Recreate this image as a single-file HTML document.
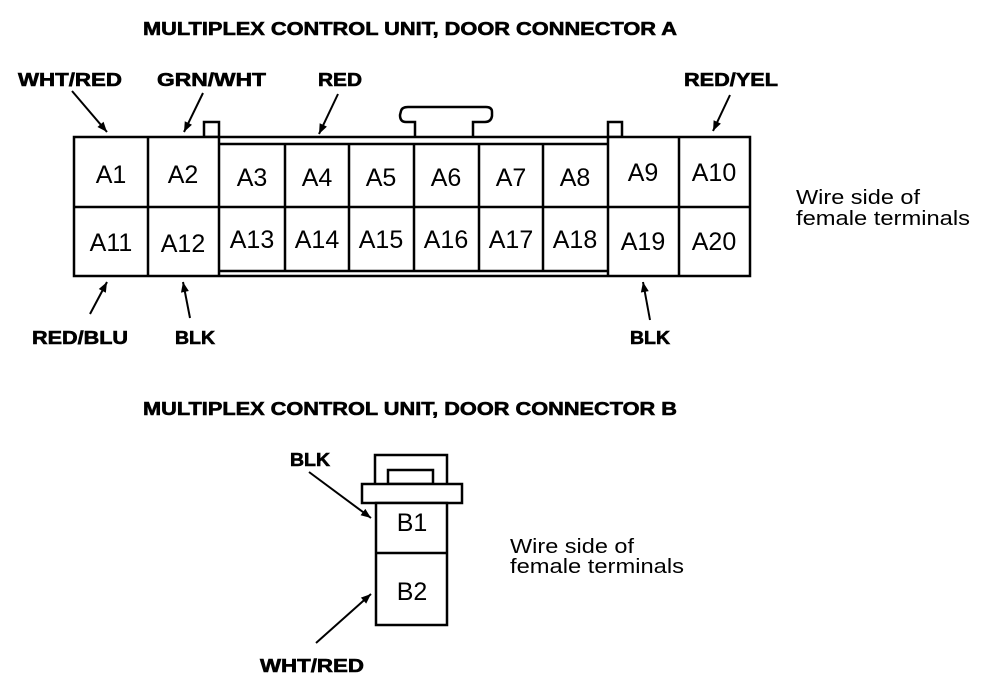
<!DOCTYPE html>
<html><head><meta charset="utf-8"><style>
html,body{margin:0;padding:0;background:#fff;}
svg{display:block;}
.t{font-family:"Liberation Sans",sans-serif;font-weight:bold;font-size:18px;fill:#000;stroke:#000;stroke-width:0.6;}
.c{font-family:"Liberation Sans",sans-serif;font-size:25px;fill:#000;text-anchor:middle;}
.n{font-family:"Liberation Sans",sans-serif;font-size:20px;fill:#000;}
</style></head><body>
<svg width="1008" height="696" viewBox="0 0 1008 696">
<defs><marker id="a" viewBox="0 0 10 10" refX="10" refY="5" markerWidth="7" markerHeight="6" orient="auto" markerUnits="userSpaceOnUse"><path d="M0,1 L10,5 L0,9 z" fill="#000"/></marker></defs>
<defs><marker id="b" viewBox="0 0 10 10" refX="10" refY="5" markerWidth="14" markerHeight="10" orient="auto" markerUnits="userSpaceOnUse"><path d="M0,1 L10,5 L0,9 z" fill="#000"/></marker></defs>
<text class="t" x="143" y="35" textLength="534" lengthAdjust="spacingAndGlyphs">MULTIPLEX CONTROL UNIT, DOOR CONNECTOR A</text>
<text class="t" x="18" y="86" textLength="104" lengthAdjust="spacingAndGlyphs">WHT/RED</text>
<text class="t" x="157" y="86" textLength="109" lengthAdjust="spacingAndGlyphs">GRN/WHT</text>
<text class="t" x="318" y="86" textLength="44" lengthAdjust="spacingAndGlyphs">RED</text>
<text class="t" x="684" y="86" textLength="94" lengthAdjust="spacingAndGlyphs">RED/YEL</text>
<text class="t" x="32" y="344" textLength="96" lengthAdjust="spacingAndGlyphs">RED/BLU</text>
<text class="t" x="175" y="344" textLength="40" lengthAdjust="spacingAndGlyphs">BLK</text>
<text class="t" x="630" y="344" textLength="40" lengthAdjust="spacingAndGlyphs">BLK</text>
<g stroke="#000" stroke-width="2" fill="none">
<line x1="72" y1="91" x2="107" y2="132" marker-end="url(#b)"/>
<line x1="203" y1="93" x2="184" y2="132" marker-end="url(#b)"/>
<line x1="338" y1="94" x2="319" y2="134" marker-end="url(#b)"/>
<line x1="730" y1="95" x2="713" y2="131" marker-end="url(#b)"/>
<line x1="90" y1="314" x2="107" y2="282" marker-end="url(#b)"/>
<line x1="190" y1="318" x2="183" y2="282" marker-end="url(#b)"/>
<line x1="650" y1="320" x2="643" y2="282" marker-end="url(#b)"/>
</g>
<g stroke="#000" stroke-width="2.5" fill="#fff">
<rect x="204" y="122" width="15" height="15"/>
<rect x="608" y="122" width="14" height="15"/>
<path d="M415,137 L415,122 L406,122 Q400,122 400,115 L401,111 Q402,107 408,107 L486,107 Q492,107 492,112 L492,116 Q491,122 485,122 L473,122 L473,137"/>
<rect x="74" y="137" width="676" height="139"/>
<line x1="219" y1="144" x2="608" y2="144"/>
<line x1="219" y1="271" x2="608" y2="271"/>
<line x1="74" y1="207" x2="750" y2="207"/>
<line x1="148" y1="137" x2="148" y2="276"/>
<line x1="219" y1="137" x2="219" y2="276"/>
<line x1="285" y1="144" x2="285" y2="271"/>
<line x1="349" y1="144" x2="349" y2="271"/>
<line x1="414" y1="144" x2="414" y2="271"/>
<line x1="479" y1="144" x2="479" y2="271"/>
<line x1="543" y1="144" x2="543" y2="271"/>
<line x1="608" y1="137" x2="608" y2="276"/>
<line x1="679" y1="137" x2="679" y2="276"/>
</g>
<g class="c">
<text x="111" y="183">A1</text><text x="183" y="183">A2</text><text x="252" y="186">A3</text><text x="317" y="186">A4</text><text x="381" y="186">A5</text><text x="446" y="186">A6</text><text x="511" y="186">A7</text><text x="575" y="186">A8</text><text x="643" y="181">A9</text><text x="714" y="181">A10</text>
<text x="111" y="251">A11</text><text x="183" y="252">A12</text><text x="252" y="248">A13</text><text x="317" y="248">A14</text><text x="381" y="248">A15</text><text x="446" y="248">A16</text><text x="511" y="248">A17</text><text x="575" y="248">A18</text><text x="643" y="250">A19</text><text x="714" y="250">A20</text>
</g>
<text class="n" x="796" y="204" textLength="124" lengthAdjust="spacingAndGlyphs">Wire side of</text>
<text class="n" x="796" y="225" textLength="174" lengthAdjust="spacingAndGlyphs">female terminals</text>

<text class="t" x="143" y="415" textLength="534" lengthAdjust="spacingAndGlyphs">MULTIPLEX CONTROL UNIT, DOOR CONNECTOR B</text>
<text class="t" x="290" y="466" textLength="40" lengthAdjust="spacingAndGlyphs">BLK</text>
<text class="t" x="260" y="672" textLength="104" lengthAdjust="spacingAndGlyphs">WHT/RED</text>
<g stroke="#000" stroke-width="2" fill="none">
<line x1="309" y1="472" x2="371" y2="518" marker-end="url(#b)"/>
<line x1="316" y1="643" x2="371" y2="594" marker-end="url(#b)"/>
</g>
<g stroke="#000" stroke-width="2.5" fill="#fff">
<rect x="375" y="455" width="72" height="30"/>
<rect x="388" y="470" width="45" height="14"/>
<rect x="362" y="484" width="100" height="19"/>
<rect x="376" y="503" width="71" height="122"/>
<line x1="376" y1="553" x2="447" y2="553"/>
</g>
<text class="c" x="412" y="531">B1</text>
<text class="c" x="412" y="600">B2</text>
<text class="n" x="510" y="553" textLength="124" lengthAdjust="spacingAndGlyphs">Wire side of</text>
<text class="n" x="510" y="573" textLength="174" lengthAdjust="spacingAndGlyphs">female terminals</text>
</svg>
</body></html>
